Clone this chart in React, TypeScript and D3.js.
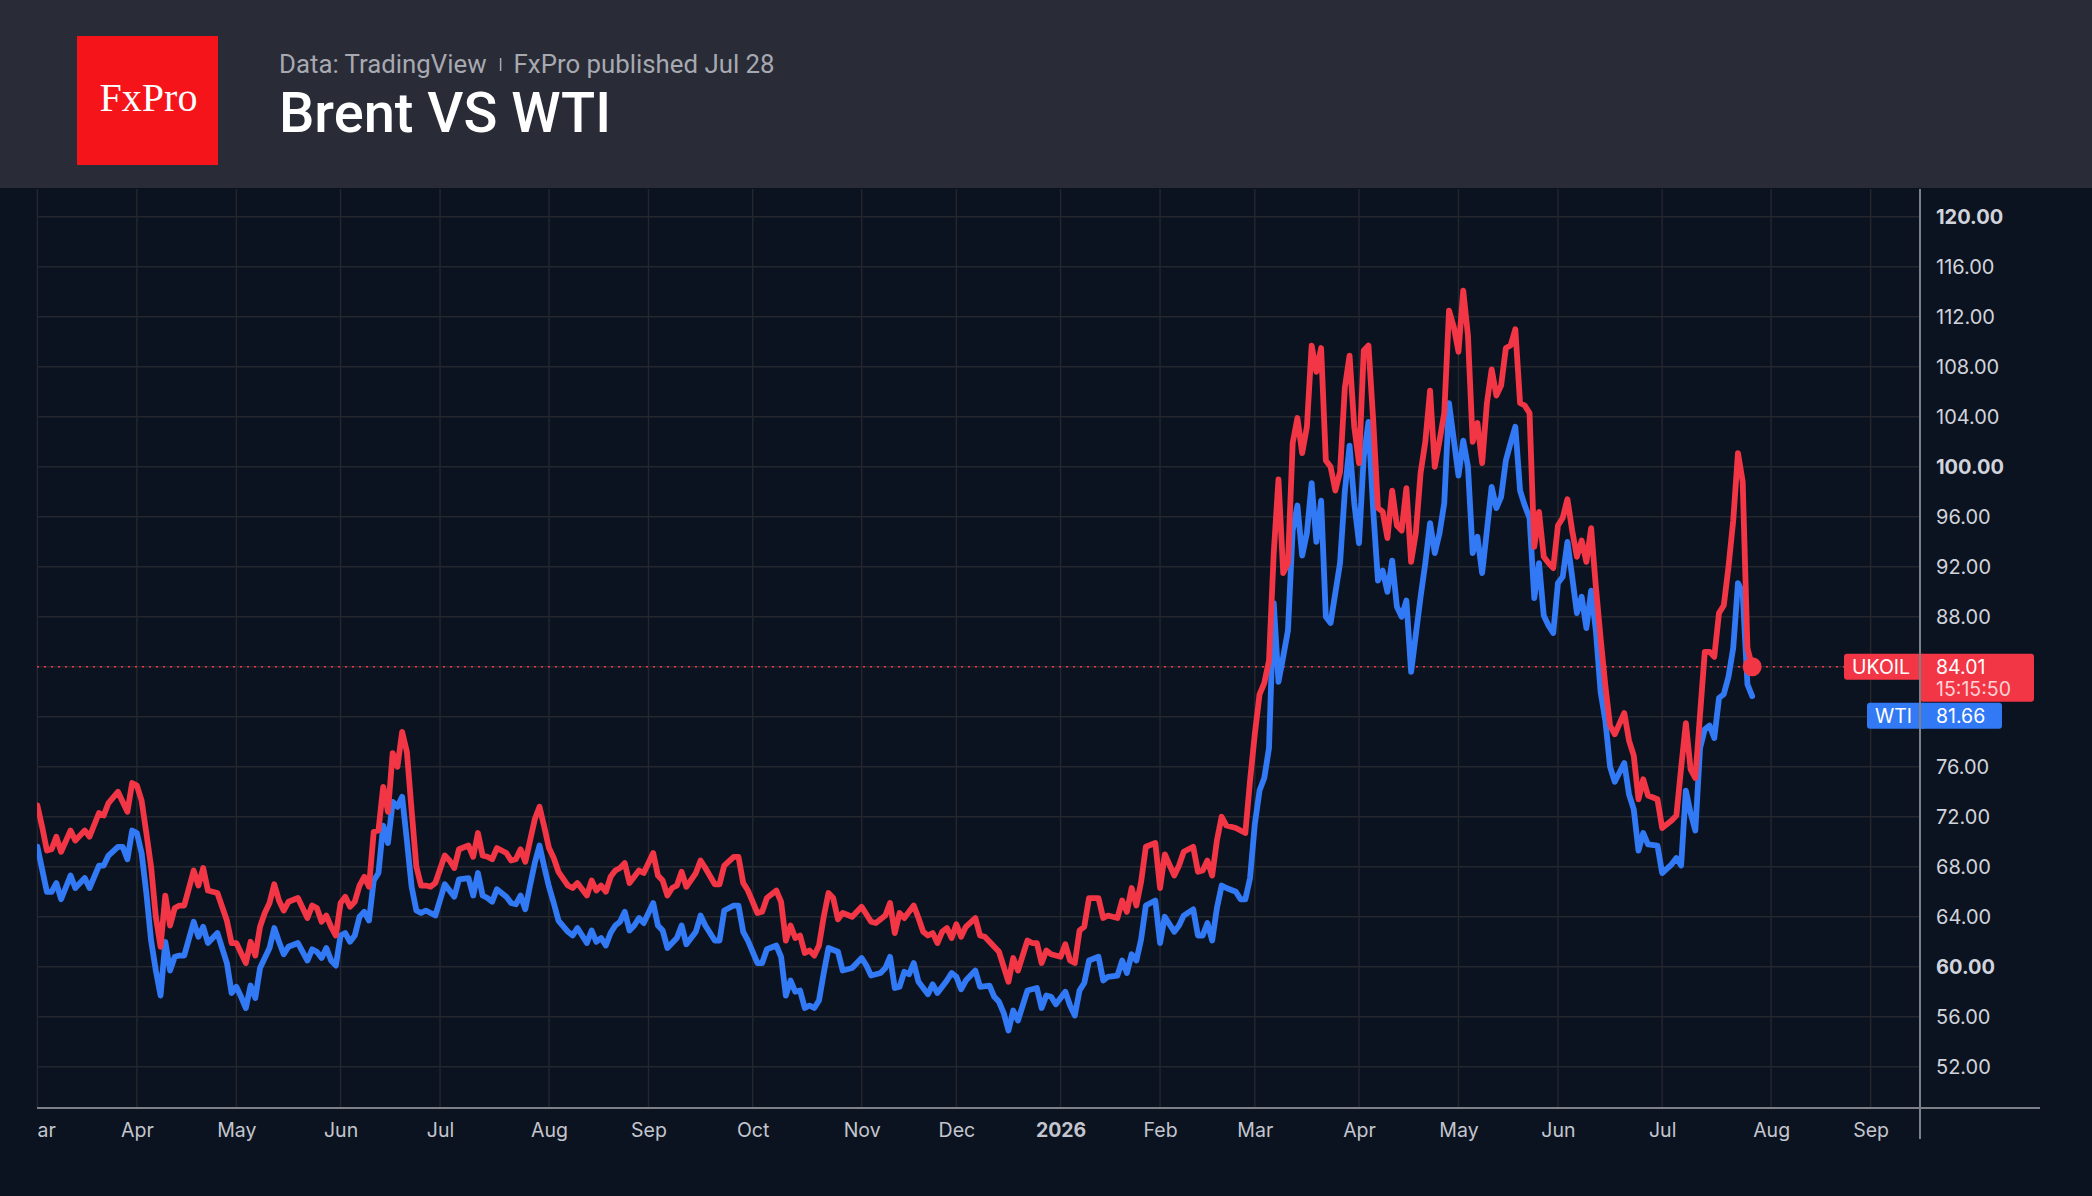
import { useEffect, useRef } from "react";
import * as d3 from "d3";

// x is the trading session number counted from Mon 3 Mar 2025 (bar index, weekends/holidays skipped)
const monthLabels = ["Mar", "Apr", "May", "Jun", "Jul", "Aug", "Sep", "Oct", "Nov", "Dec", "2026", "Feb", "Mar", "Apr", "May", "Jun", "Jul", "Aug", "Sep"];
const monthSessions = [0, 21, 42, 64, 85, 108, 129, 151, 174, 194, 216, 237, 257, 279, 300, 321, 343, 366, 387];
const boldMonths = ["2026"];

const priceTicks = [52, 56, 60, 64, 68, 72, 76, 80, 84, 88, 92, 96, 100, 104, 108, 112, 116, 120];
const boldPrices = [60, 100, 120];

// Brent (UKOIL) daily close, [session, price]
const brent: [number, number][] = [
  [0, 72.9], [1, 71.2], [2, 69.3], [3, 69.4], [4, 70.4], [5, 69.2], [7, 70.9], [8, 70.1], [10, 70.9], [11, 70.4],
  [13, 72.3], [14, 72.1], [15, 73.1], [17, 74.0], [19, 72.4], [20, 74.7], [21, 74.5], [22, 73.3], [23, 70.7], [24, 68.0],
  [25, 64.0], [26, 61.6], [27, 65.7], [28, 63.3], [29, 64.7], [30, 64.9], [31, 64.9], [33, 67.7], [34, 66.5], [35, 67.9],
  [36, 66.1], [38, 65.9], [40, 63.7], [41, 61.9], [42, 61.9], [43, 61.1], [44, 60.3], [45, 62.0], [46, 60.9], [47, 63.2],
  [48, 64.3], [49, 65.1], [50, 66.6], [51, 65.3], [52, 64.5], [53, 65.2], [55, 65.5], [56, 64.7], [57, 63.9], [58, 64.9],
  [59, 64.7], [60, 63.6], [61, 64.1], [62, 63.2], [63, 62.5], [64, 65.1], [65, 65.6], [66, 64.8], [67, 65.2], [68, 66.5],
  [69, 67.2], [70, 66.4], [71, 70.8], [72, 70.9], [73, 74.4], [74, 72.4], [75, 77.1], [76, 76.0], [77, 78.8], [78, 77.2],
  [79, 72.5], [80, 68.0], [81, 66.5], [82, 66.5], [83, 66.4], [84, 66.7], [86, 68.9], [87, 68.5], [88, 67.9], [89, 69.4],
  [91, 69.7], [92, 68.8], [93, 70.7], [94, 68.9], [95, 68.8], [96, 68.6], [97, 69.5], [99, 69.1], [100, 68.5], [101, 68.6],
  [102, 69.4], [103, 68.4], [104, 70.1], [105, 71.8], [106, 72.8], [107, 71.2], [108, 69.5], [109, 68.7], [110, 67.6], [112, 66.5],
  [113, 66.3], [114, 66.7], [116, 65.7], [117, 66.9], [118, 66.1], [119, 66.5], [120, 66.0], [121, 67.2], [122, 67.7], [123, 67.9],
  [124, 68.3], [125, 66.7], [126, 67.2], [127, 67.7], [128, 67.5], [130, 69.1], [131, 67.3], [132, 66.9], [133, 65.7], [134, 66.3],
  [135, 66.5], [136, 67.6], [137, 66.4], [139, 67.5], [140, 68.5], [141, 67.9], [143, 66.6], [144, 66.6], [145, 68.1], [147, 68.8],
  [148, 68.8], [149, 66.7], [150, 66.1], [152, 64.3], [153, 64.4], [154, 65.5], [156, 66.1], [157, 65.2], [158, 62.1], [159, 63.3],
  [160, 62.3], [161, 62.5], [162, 61.1], [163, 61.3], [164, 60.9], [165, 61.7], [166, 64.0], [167, 65.9], [168, 65.5], [169, 63.8],
  [170, 64.3], [172, 64.0], [174, 64.8], [176, 63.6], [177, 63.5], [179, 64.1], [180, 65.1], [181, 62.7], [182, 64.3], [183, 63.9],
  [185, 64.9], [186, 63.9], [187, 62.8], [188, 62.5], [189, 62.7], [190, 61.9], [191, 62.8], [192, 63.1], [193, 62.3], [194, 63.4],
  [195, 62.4], [196, 63.2], [198, 63.9], [199, 62.5], [200, 62.4], [202, 61.6], [203, 61.2], [204, 60.0], [205, 58.8], [206, 60.7],
  [207, 59.7], [208, 60.9], [209, 62.1], [210, 61.9], [211, 61.9], [212, 60.3], [213, 61.3], [214, 61.0], [216, 60.8], [217, 61.8],
  [218, 60.5], [219, 60.3], [220, 62.9], [221, 63.2], [222, 65.5], [224, 65.5], [225, 63.9], [226, 64.1], [228, 63.9], [229, 65.3],
  [230, 64.4], [231, 66.3], [232, 64.9], [233, 66.8], [234, 69.6], [236, 69.9], [237, 66.3], [238, 69.0], [240, 67.3], [241, 68.1],
  [242, 69.2], [244, 69.6], [245, 67.6], [246, 67.7], [247, 68.5], [248, 67.3], [249, 70.1], [250, 72.0], [251, 71.3], [253, 71.1],
  [254, 70.9], [255, 70.7], [256, 74.9], [257, 78.6], [258, 81.8], [259, 82.7], [260, 84.5], [261, 93.1], [262, 99.0], [263, 91.5],
  [264, 92.3], [265, 101.9], [266, 103.9], [267, 101.1], [268, 103.2], [269, 109.7], [270, 107.6], [271, 109.5], [272, 100.5], [273, 100.0],
  [274, 98.1], [275, 99.6], [276, 106.3], [277, 108.9], [278, 103.2], [279, 100.3], [280, 109.3], [281, 109.7], [282, 103.7], [283, 96.7],
  [284, 96.4], [285, 94.3], [286, 98.1], [287, 95.3], [288, 94.9], [289, 98.3], [290, 92.4], [291, 94.7], [292, 99.5], [293, 102.0],
  [294, 106.1], [295, 100.0], [296, 102.1], [297, 104.3], [298, 112.5], [299, 111.2], [300, 109.2], [301, 114.1], [302, 110.5], [303, 102.0],
  [304, 103.5], [305, 100.3], [306, 105.1], [307, 107.8], [308, 105.7], [309, 106.5], [310, 109.5], [311, 109.7], [312, 111.0], [313, 105.1],
  [314, 104.9], [315, 104.3], [316, 93.6], [317, 96.4], [318, 92.8], [319, 92.3], [320, 91.9], [321, 95.3], [322, 95.9], [323, 97.4],
  [324, 94.9], [325, 92.8], [326, 94.1], [327, 92.4], [328, 95.1], [329, 90.4], [330, 86.3], [331, 82.5], [332, 79.3], [333, 78.6],
  [335, 80.3], [336, 78.1], [337, 76.9], [338, 73.4], [339, 75.0], [340, 73.7], [342, 73.4], [343, 71.1], [345, 71.7], [346, 72.1],
  [347, 75.9], [348, 79.5], [349, 75.8], [350, 75.1], [351, 80.2], [352, 85.2], [353, 85.2], [354, 84.8], [355, 88.3], [356, 88.9],
  [357, 92.0], [358, 95.7], [359, 101.1], [360, 98.8], [361, 85.5], [362, 84.01],
];

// WTI daily close, [session, price]
const wti: [number, number][] = [
  [0, 69.6], [1, 67.8], [2, 66.0], [3, 66.0], [4, 66.7], [5, 65.4], [7, 67.3], [8, 66.3], [10, 67.1], [11, 66.3],
  [13, 68.1], [14, 68.1], [15, 68.9], [17, 69.6], [18, 69.6], [19, 68.6], [20, 70.9], [21, 70.7], [22, 69.1], [23, 65.9],
  [24, 62.1], [25, 59.7], [26, 57.7], [27, 62.0], [28, 59.7], [29, 60.8], [30, 60.9], [31, 60.9], [33, 63.6], [34, 62.4],
  [35, 63.2], [36, 61.9], [38, 62.7], [40, 60.3], [41, 57.9], [42, 58.4], [43, 57.6], [44, 56.7], [45, 58.5], [46, 57.5],
  [47, 59.9], [48, 60.7], [49, 61.5], [50, 63.1], [51, 62.0], [52, 61.0], [53, 61.6], [55, 61.9], [56, 61.2], [57, 60.5],
  [58, 61.4], [59, 61.2], [60, 60.7], [61, 61.5], [62, 60.5], [63, 60.1], [64, 62.5], [65, 62.7], [66, 62.0], [67, 62.5],
  [68, 64.0], [69, 64.4], [70, 63.7], [71, 66.9], [72, 67.5], [73, 71.3], [74, 69.9], [75, 73.2], [76, 72.8], [77, 73.6],
  [78, 70.1], [79, 66.4], [80, 64.5], [81, 64.3], [82, 64.5], [83, 64.3], [84, 64.1], [86, 66.6], [87, 66.1], [88, 65.6],
  [89, 67.0], [91, 67.1], [92, 65.7], [93, 67.5], [94, 65.7], [95, 65.5], [96, 65.2], [97, 66.2], [99, 65.6], [100, 65.1],
  [101, 65.0], [102, 65.7], [103, 64.6], [104, 66.5], [105, 68.3], [106, 69.7], [107, 68.0], [108, 66.4], [109, 65.1], [110, 63.7],
  [112, 62.8], [113, 62.5], [114, 63.1], [116, 61.9], [117, 62.9], [118, 62.0], [119, 62.3], [120, 61.7], [121, 62.7], [122, 63.3],
  [123, 63.6], [124, 64.4], [125, 62.9], [126, 63.3], [127, 63.9], [128, 63.5], [130, 65.1], [131, 63.3], [132, 62.9], [133, 61.5],
  [134, 61.9], [135, 62.3], [136, 63.3], [137, 61.8], [139, 62.8], [140, 64.1], [141, 63.3], [143, 62.1], [144, 62.1], [145, 64.5],
  [147, 64.9], [148, 64.9], [149, 62.8], [150, 62.1], [152, 60.3], [153, 60.3], [154, 61.4], [156, 61.7], [157, 60.8], [158, 57.7],
  [159, 58.9], [160, 58.0], [161, 58.1], [162, 56.7], [163, 56.9], [164, 56.7], [165, 57.3], [166, 59.5], [167, 61.5], [169, 61.2],
  [170, 59.7], [172, 59.9], [174, 60.7], [175, 60.1], [176, 59.3], [178, 59.5], [179, 59.9], [180, 60.8], [181, 58.3], [182, 58.4],
  [183, 59.6], [184, 59.4], [185, 60.3], [186, 58.8], [188, 57.8], [189, 58.6], [190, 57.9], [192, 58.9], [193, 59.5], [194, 59.2],
  [195, 58.2], [196, 58.9], [198, 59.7], [199, 58.4], [201, 58.5], [202, 57.6], [203, 57.2], [204, 56.3], [205, 54.9], [206, 56.5],
  [207, 55.7], [208, 56.9], [209, 58.1], [211, 58.3], [212, 56.7], [213, 57.7], [214, 57.6], [215, 57.0], [217, 58.0], [218, 56.9],
  [219, 56.1], [220, 58.1], [221, 58.7], [222, 60.5], [224, 60.8], [225, 58.9], [226, 59.2], [228, 59.3], [229, 60.5], [230, 59.5],
  [231, 61.0], [232, 60.5], [233, 62.2], [234, 64.9], [236, 65.3], [237, 61.9], [238, 64.0], [240, 62.8], [241, 63.3], [242, 64.1],
  [244, 64.6], [245, 62.5], [246, 62.5], [247, 63.5], [248, 62.1], [249, 64.7], [250, 66.5], [251, 66.3], [253, 66.0], [254, 65.4],
  [255, 65.4], [256, 67.1], [257, 71.4], [258, 74.1], [259, 75.1], [260, 77.5], [261, 89.1], [262, 82.8], [263, 84.8], [264, 86.9],
  [265, 94.9], [266, 96.9], [267, 92.9], [268, 94.7], [269, 98.7], [270, 94.0], [271, 97.3], [272, 88.0], [273, 87.5], [275, 92.3],
  [276, 98.0], [277, 101.7], [278, 97.1], [279, 93.9], [280, 100.8], [281, 103.6], [282, 96.5], [283, 90.9], [284, 91.7], [285, 90.0],
  [286, 92.5], [287, 88.8], [288, 88.0], [289, 89.3], [290, 83.6], [292, 89.6], [293, 92.3], [294, 95.5], [295, 93.1], [296, 94.7],
  [297, 97.1], [298, 105.1], [300, 99.3], [301, 102.1], [302, 100.0], [303, 93.1], [304, 94.4], [305, 91.5], [306, 94.9], [307, 98.4],
  [308, 96.7], [309, 97.6], [310, 100.5], [311, 101.9], [312, 103.2], [313, 98.1], [314, 96.9], [315, 95.9], [316, 89.5], [317, 92.3],
  [318, 88.1], [319, 87.3], [320, 86.7], [321, 90.7], [322, 91.2], [323, 94.0], [324, 91.2], [325, 88.3], [326, 89.6], [327, 87.1],
  [328, 90.1], [329, 86.9], [330, 82.0], [331, 79.7], [332, 76.0], [333, 74.8], [335, 76.3], [336, 73.8], [337, 72.6], [338, 69.3],
  [339, 70.7], [340, 69.8], [342, 69.7], [343, 67.5], [345, 68.2], [346, 68.7], [347, 68.1], [348, 74.1], [349, 72.3], [350, 70.9],
  [351, 77.5], [352, 79.0], [353, 79.3], [354, 78.3], [355, 81.5], [356, 81.8], [357, 83.2], [358, 85.5], [359, 90.7], [360, 89.9],
  [361, 82.6], [362, 81.66],
];

const brentLabel = { symbol: "UKOIL", price: "84.01", countdown: "15:15:50" };
const wtiLabel = { symbol: "WTI", price: "81.66" };

const RED = "#f23645";
const BLUE = "#3179f5";

export default function App() {
  const width = 2092;
  const height = 1196;
  const header = 188;
  const pane = { left: 37, right: 1920, top: 189, bottom: 1108 };
  const svgRef = useRef<SVGSVGElement | null>(null);

  useEffect(() => {
    document.body.style.margin = "0";
    document.body.style.overflow = "hidden";
    if (!svgRef.current) return;
    const svg = d3.select(svgRef.current);
    svg.selectAll("*").remove();

    // bar index -> pixel, price -> pixel
    const xScale = d3.scaleLinear().domain([0, 387]).range([37.4, 1870.6]);
    const yScale = d3.scaleLinear().domain([52, 120]).range([1066.8, 216.8]);

    svg.append("rect").attr("width", width).attr("height", height).attr("fill", "#0c1320");
    svg.append("rect").attr("width", width).attr("height", header).attr("fill", "#292b36");

    const defs = svg.append("defs");
    defs.append("clipPath").attr("id", "pane-clip").append("rect")
      .attr("x", pane.left).attr("y", pane.top)
      .attr("width", pane.right - pane.left).attr("height", pane.bottom - pane.top);
    defs.append("clipPath").attr("id", "time-clip").append("rect")
      .attr("x", pane.left).attr("y", pane.bottom)
      .attr("width", pane.right - pane.left).attr("height", height - pane.bottom);

    // grid
    const grid = svg.append("g").attr("stroke", "#25272e").attr("stroke-width", 1.4);
    grid.selectAll("line.h").data(priceTicks).join("line").attr("class", "h")
      .attr("x1", pane.left).attr("x2", pane.right)
      .attr("y1", (d) => yScale(d)).attr("y2", (d) => yScale(d));
    grid.selectAll("line.v").data(monthSessions).join("line").attr("class", "v")
      .attr("x1", (d) => xScale(d)).attr("x2", (d) => xScale(d))
      .attr("y1", pane.top).attr("y2", pane.bottom);

    // last price line for Brent
    const lastBrent = brent[brent.length - 1];
    const redBoxTop = yScale(lastBrent[1]) - 13;
    const redBoxLeft = 1844;
    svg.append("line")
      .attr("x1", pane.left).attr("x2", redBoxLeft)
      .attr("y1", yScale(lastBrent[1])).attr("y2", yScale(lastBrent[1]))
      .attr("stroke", RED).attr("stroke-width", 1.6).attr("stroke-dasharray", "2 5");

    // series
    const line = d3.line<[number, number]>().x((d) => xScale(d[0])).y((d) => yScale(d[1]));
    const series = svg.append("g").attr("clip-path", "url(#pane-clip)");
    series.append("path").datum(wti).attr("d", line).attr("fill", "none")
      .attr("stroke", BLUE).attr("stroke-width", 5.8)
      .attr("stroke-linejoin", "round").attr("stroke-linecap", "round");
    series.append("path").datum(brent).attr("d", line).attr("fill", "none")
      .attr("stroke", RED).attr("stroke-width", 5.8)
      .attr("stroke-linejoin", "round").attr("stroke-linecap", "round");
    series.append("circle")
      .attr("cx", xScale(lastBrent[0])).attr("cy", yScale(lastBrent[1]))
      .attr("r", 9.5).attr("fill", RED);

    // axes frame
    svg.append("line").attr("x1", pane.left).attr("x2", 2040)
      .attr("y1", pane.bottom).attr("y2", pane.bottom)
      .attr("stroke", "#7d8089").attr("stroke-width", 2);
    svg.append("line").attr("x1", pane.right).attr("x2", pane.right)
      .attr("y1", pane.top).attr("y2", 1139)
      .attr("stroke", "#7d8089").attr("stroke-width", 2);

    // price axis (labels hidden behind the last-value tags)
    const hideFrom = redBoxTop - 10;
    const hideTo = redBoxTop + 76 + 10;
    const shownTicks = priceTicks.filter((t) => yScale(t) < hideFrom || yScale(t) > hideTo);
    const yAxis = svg.append("g")
      .attr("transform", `translate(${pane.right},0)`)
      .call(d3.axisRight(yScale).tickValues(shownTicks).tickFormat(d3.format(".2f")).tickSize(0).tickPadding(16));
    yAxis.select(".domain").remove();
    yAxis.selectAll("text")
      .attr("fill", "#d1d4dc")
      .attr("font-family", "Inter, 'Noto Sans', sans-serif")
      .attr("font-size", 20)
      .attr("font-weight", (d) => (boldPrices.includes(d as number) ? 700 : 400));

    // time axis (clipped at the pane's left edge, as in the terminal)
    const xAxis = svg.append("g")
      .attr("clip-path", "url(#time-clip)")
      .append("g")
      .attr("transform", `translate(0,${pane.bottom})`)
      .call(d3.axisBottom(xScale).tickValues(monthSessions)
        .tickFormat((_, i) => monthLabels[i]).tickSize(0).tickPadding(15));
    xAxis.select(".domain").remove();
    xAxis.selectAll("text")
      .attr("fill", "#c3c6ce")
      .attr("font-family", "Inter, 'Noto Sans', sans-serif")
      .attr("font-size", 19.5)
      .attr("font-weight", (_, i) => (boldMonths.includes(monthLabels[i]) ? 700 : 400));

    // last value tags
    const tagFont = "Inter, 'Noto Sans', sans-serif";
    const tags = svg.append("g").attr("font-family", tagFont).attr("font-size", 19.5);
    tags.append("rect").attr("x", redBoxLeft).attr("y", redBoxTop).attr("width", pane.right - redBoxLeft + 6)
      .attr("height", 26).attr("rx", 3).attr("fill", RED);
    tags.append("rect").attr("x", pane.right).attr("y", redBoxTop).attr("width", 114)
      .attr("height", 48).attr("rx", 3).attr("fill", RED);
    tags.append("text").attr("x", 1852).attr("y", redBoxTop + 20).attr("fill", "#ffffff").text(brentLabel.symbol);
    tags.append("text").attr("x", 1936).attr("y", redBoxTop + 20).attr("fill", "#ffffff").text(brentLabel.price);
    tags.append("text").attr("x", 1936).attr("y", redBoxTop + 42).attr("fill", "#ffd2d6").text(brentLabel.countdown);

    const blueTop = redBoxTop + 49;
    const blueLeft = 1867;
    tags.append("rect").attr("x", blueLeft).attr("y", blueTop).attr("width", pane.right - blueLeft + 6)
      .attr("height", 26).attr("rx", 3).attr("fill", BLUE);
    tags.append("rect").attr("x", pane.right).attr("y", blueTop).attr("width", 82)
      .attr("height", 26).attr("rx", 3).attr("fill", BLUE);
    tags.append("text").attr("x", 1875).attr("y", blueTop + 20).attr("fill", "#ffffff").text(wtiLabel.symbol);
    tags.append("text").attr("x", 1936).attr("y", blueTop + 20).attr("fill", "#ffffff").text(wtiLabel.price);

    // redraw the axis line over the tags
    svg.append("line").attr("x1", pane.right).attr("x2", pane.right)
      .attr("y1", redBoxTop).attr("y2", blueTop + 26)
      .attr("stroke", "#7d8089").attr("stroke-width", 2);

    // header
    svg.append("rect").attr("x", 77).attr("y", 36).attr("width", 141).attr("height", 129).attr("fill", "#f5141a");
    svg.append("text").attr("x", 148.5).attr("y", 111).attr("text-anchor", "middle")
      .attr("fill", "#ffffff").attr("font-family", "'Liberation Serif', 'DejaVu Serif', serif")
      .attr("font-size", 40).text("FxPro");

    const sub = svg.append("g").attr("font-family", "Roboto, 'Noto Sans', sans-serif")
      .attr("font-size", 25.8).attr("fill", "#a7a9b1");
    const src = sub.append("text").attr("x", 279).attr("y", 73).text("Data: TradingView");
    const srcWidth = (src.node() as SVGTextElement).getComputedTextLength();
    const sepX = 279 + srcWidth + 14;
    sub.append("line").attr("x1", sepX).attr("x2", sepX).attr("y1", 58).attr("y2", 71)
      .attr("stroke", "#a7a9b1").attr("stroke-width", 1.5);
    sub.append("text").attr("x", sepX + 13).attr("y", 73).text("FxPro published Jul 28");

    svg.append("text").attr("x", 279).attr("y", 132)
      .attr("fill", "#ffffff").attr("font-family", "Roboto, 'Noto Sans', sans-serif")
      .attr("font-weight", 500).attr("font-size", 56).text("Brent VS WTI");
  }, []);

  return <svg ref={svgRef} width={width} height={height} style={{ display: "block" }} />;
}
